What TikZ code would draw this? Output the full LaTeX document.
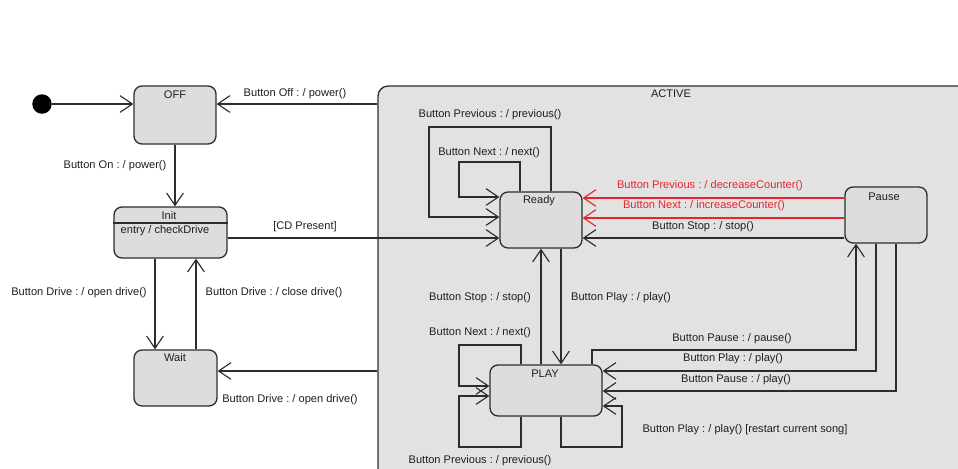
\documentclass[tikz,border=0pt]{standalone}
\usepackage{fontspec}
\setmainfont{Liberation Sans}
\usetikzlibrary{arrows.meta}
\frenchspacing
\definecolor{stfill}{RGB}{221,221,221}
\definecolor{actfill}{RGB}{226,226,226}
\definecolor{edge}{RGB}{45,45,45}
\definecolor{redline}{RGB}{232,36,44}
\tikzset{
  statebox/.style={draw=edge, fill=stfill, rounded corners=0.16cm, line width=0.75pt, inner sep=0pt},
  lbl/.style={font=\fontsize{6.3}{7.5}\selectfont\frenchspacing, inner sep=0pt, text=black!88},
  arr/.style={draw=edge, line width=0.75pt, -{Straight Barb[length=7pt,width=9.5pt,line width=0.65pt]}},
  redarr/.style={draw=redline, line width=0.75pt, -{Straight Barb[length=7pt,width=9.5pt,line width=0.65pt]}},
}
\begin{document}
\begin{tikzpicture}[x=0.02cm,y=-0.02cm]
\clip (0,0) rectangle (958,468);
\fill[white] (0,0) rectangle (958,468);
% ACTIVE composite state
\node[draw=edge, fill=actfill, rounded corners=0.2cm, line width=0.75pt, minimum width=11.94cm, minimum height=7.98cm, inner sep=0pt] (active) at (676.5,285.5) {};
\node[lbl] (activet) at (671,94) {ACTIVE};
% initial pseudo state
\node[circle, fill=black, minimum size=0.39cm, inner sep=0pt] (start) at (42,104) {};
% states
\node[statebox, minimum width=1.64cm, minimum height=1.16cm] (off) at (175,115) {};
\node[lbl] (offt) at (175,95) {OFF};
\node[statebox, minimum width=2.26cm, minimum height=1.02cm] (init) at (170.5,232.5) {};
\node[lbl] (initt) at (169,215.5) {Init};
\node[lbl] (initd) at (165,230.5) {entry / checkDrive};
\node[statebox, minimum width=1.66cm, minimum height=1.12cm] (wait) at (175.5,378) {};
\node[lbl] (waitt) at (175,358) {Wait};
\node[statebox, minimum width=1.64cm, minimum height=1.12cm] (ready) at (541,220) {};
\node[lbl] (readyt) at (539,201) {Ready};
\node[statebox, minimum width=1.64cm, minimum height=1.12cm] (pause) at (886,215) {};
\node[lbl] (pauset) at (884,197) {Pause};
\node[statebox, minimum width=2.24cm, minimum height=1.02cm] (play) at (546,390.5) {};
\node[lbl] (playt) at (545,374) {PLAY};
% Init compartment line
\draw[edge, line width=0.75pt] (init.west |- 0,223) -- (init.east |- 0,223);
% outer transitions
\draw[arr] (start) -- (off.west |- start);
\draw[arr] (active.west |- 0,104) -- (off.east |- 0,104);
\node[lbl] (l1) at (295,94) {Button Off : / power()};
\draw[arr] (off.south) -- (off.south |- init.north);
\node[lbl] (l2) at (115,166) {Button On : / power()};
\draw[arr] (init.east |- 0,238) -- (ready.west |- 0,238);
\node[lbl] (l3) at (305,227) {[CD Present]};
\draw[arr] (155,0 |- init.south) -- (155,0 |- wait.north);
\node[lbl] (l4) at (79,293) {Button Drive : / open drive()};
\draw[arr] (196,0 |- wait.north) -- (196,0 |- init.south);
\node[lbl] (l5) at (274,293) {Button Drive : / close drive()};
\draw[arr] (active.west |- 0,371) -- (wait.east |- 0,371);
\node[lbl] (l6) at (290,400) {Button Drive : / open drive()};
% Ready self loops
\draw[arr] (520,0 |- ready.north) -- (520,162) -- (459,162) -- (459,197) -- (ready.west |- 0,197);
\node[lbl] (l7) at (489,153) {Button Next : / next()};
\draw[arr] (551,0 |- ready.north) -- (551,127) -- (429,127) -- (429,217) -- (ready.west |- 0,217);
\node[lbl] (l8) at (490,115) {Button Previous : / previous()};
% Pause -> Ready
\draw[redarr] (pause.west |- 0,198) -- (ready.east |- 0,198);
\node[lbl, text=redline] (l9) at (710,186) {Button Previous : / decreaseCounter()};
\draw[redarr] (pause.west |- 0,218) -- (ready.east |- 0,218);
\node[lbl, text=redline] (l10) at (704,206) {Button Next : / increaseCounter()};
\draw[arr] (pause.west |- 0,238) -- (ready.east |- 0,238);
\node[lbl] (l11) at (703,227) {Button Stop : / stop()};
% Ready <-> PLAY
\draw[arr] (561,0 |- ready.south) -- (561,0 |- play.north);
\node[lbl] (l12) at (621,298) {Button Play : / play()};
\draw[arr] (541,0 |- play.north) -- (541,0 |- ready.south);
\node[lbl] (l13) at (480,298) {Button Stop : / stop()};
% PLAY self loops
\draw[arr] (521,0 |- play.north) -- (521,345) -- (459,345) -- (459,386) -- (play.west |- 0,386);
\node[lbl] (l14) at (480,333) {Button Next : / next()};
\draw[arr] (521,0 |- play.south) -- (521,447) -- (459,447) -- (459,396) -- (play.west |- 0,396);
\node[lbl] (l15) at (480,461) {Button Previous : / previous()};
\draw[arr] (561,0 |- play.south) -- (561,447) -- (622,447) -- (622,406) -- (play.east |- 0,406);
\node[lbl] (l16) at (745,430) {Button Play : / play() [restart current song]};
% PLAY <-> Pause
\draw[arr] (592,0 |- play.north) -- (592,350) -- (856,350) -- (856,0 |- pause.south);
\node[lbl] (l17) at (732,339) {Button Pause : / pause()};
\draw[arr] (876,0 |- pause.south) -- (876,371) -- (play.east |- 0,371);
\node[lbl] (l18) at (733,359) {Button Play : / play()};
\draw[arr] (896,0 |- pause.south) -- (896,391) -- (play.east |- 0,391);
\node[lbl] (l19) at (736,380) {Button Pause : / play()};
\end{tikzpicture}
\end{document}
